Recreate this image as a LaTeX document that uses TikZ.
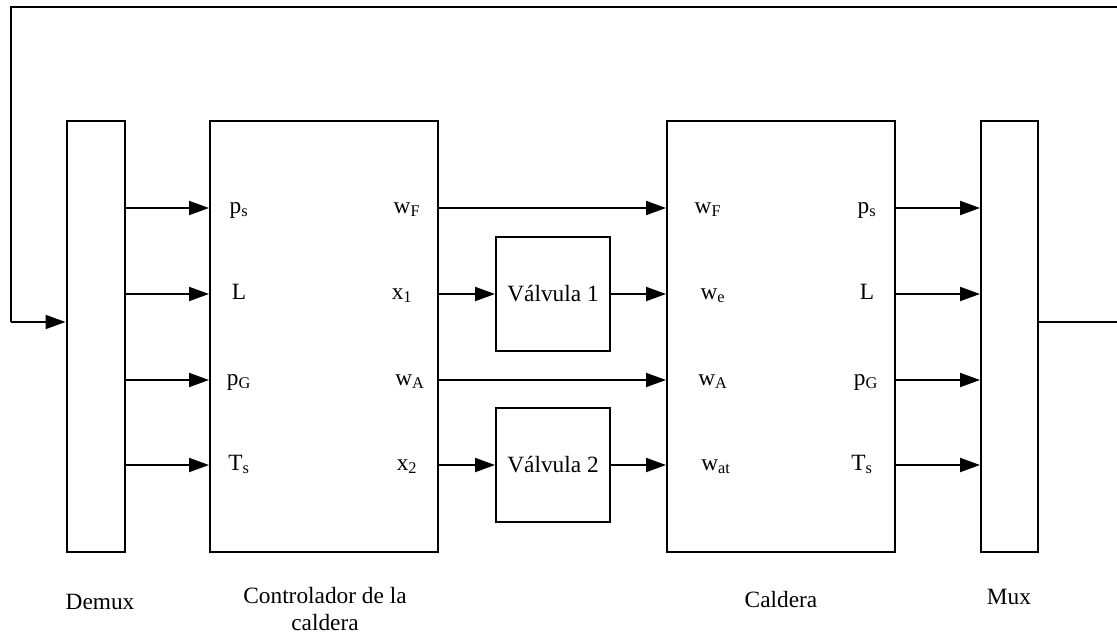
\documentclass[tikz,border=0pt]{standalone}
\usepackage{fontspec}
\setmainfont{Liberation Serif}
\usetikzlibrary{arrows.meta}
\begin{document}
\begin{tikzpicture}[x=0.75pt,y=-0.75pt,
  blk/.style={draw,line width=1.5pt,inner sep=0pt},
  arr/.style={line width=1.5pt,-{Triangle[length=15pt,width=10.5pt]}},
  wire/.style={line width=1.5pt},
  lab/.style={anchor=base,inner sep=0pt,font=\fontsize{17.5}{20}\selectfont},
  captxt/.style={align=center,inner sep=0pt,font=\fontsize{17.5}{20.5}\selectfont}]
\useasboundingbox (0,0) rectangle (1117,639);
% blocks
\node[blk,minimum width=43.5pt,minimum height=323.25pt] (demux) at (95.5,336.5) {};
\node[blk,minimum width=171pt,minimum height=323.25pt] (ctrl) at (324,336.5) {};
\node[blk,minimum width=171pt,minimum height=323.25pt] (cald) at (781,336.5) {};
\node[blk,minimum width=42.75pt,minimum height=323.25pt] (mux) at (1009.5,336.5) {};
\node[blk,minimum width=85.5pt,minimum height=85.5pt,font=\fontsize{17.5}{20}\selectfont] (v1) at (553,294) {Válvula 1};
\node[blk,minimum width=85.5pt,minimum height=85.5pt,font=\fontsize{17.5}{20}\selectfont] (v2) at (553,465) {Válvula 2};
% row coordinates
\coordinate (r1) at (0,208);
\coordinate (r2) at (0,294);
\coordinate (r3) at (0,380);
\coordinate (r4) at (0,465);
\coordinate (fb) at (0,322);
\coordinate (tl) at (11,7);
\coordinate (tr) at (1124,7);
% demux -> controller, caldera -> mux
\foreach \r in {r1,r2,r3,r4}{
  \draw[arr] (demux.east |- \r) -- (ctrl.west |- \r);
  \draw[arr] (cald.east |- \r) -- (mux.west |- \r);
}
% controller -> caldera
\draw[arr] (ctrl.east |- r1) -- (cald.west |- r1);
\draw[arr] (ctrl.east |- r3) -- (cald.west |- r3);
\draw[arr] (ctrl.east |- r2) -- (v1.west);
\draw[arr] (v1.east) -- (cald.west |- r2);
\draw[arr] (ctrl.east |- r4) -- (v2.west);
\draw[arr] (v2.east) -- (cald.west |- r4);
% feedback loop
\draw[wire] (mux.east |- fb) -- (tr |- fb) -- (tr) -- (tl) -- (tl |- fb);
\draw[arr] (tl |- fb) -- (demux.west |- fb);
% controller labels
\node[lab] (ci1) at (239,213) {p\textsubscript{s}};
\node[lab] (ci2) at (239,299) {L};
\node[lab] (ci3) at (239,385) {p\textsubscript{G}};
\node[lab] (ci4) at (239,470) {T\textsubscript{s}};
\node[lab] (co1) at (407,213) {w\textsubscript{F}};
\node[lab] (co2) at (402,299) {x\textsubscript{1}};
\node[lab] (co3) at (410,385) {w\textsubscript{A}};
\node[lab] (co4) at (407,470) {x\textsubscript{2}};
% caldera labels
\node[lab] (ki1) at (708,213) {w\textsubscript{F}};
\node[lab] (ki2) at (713,299) {w\textsubscript{e}};
\node[lab] (ki3) at (713,385) {w\textsubscript{A}};
\node[lab] (ki4) at (716,470) {w\textsubscript{at}};
\node[lab] (ko1) at (867,213) {p\textsubscript{s}};
\node[lab] (ko2) at (867,299) {L};
\node[lab] (ko3) at (866,385) {p\textsubscript{G}};
\node[lab] (ko4) at (862,470) {T\textsubscript{s}};
% captions
\node[captxt] (cdemux) at (100,602) {Demux};
\node[captxt] (cctrl) at (325,609) {Controlador de la\\caldera};
\node[captxt] (ccald) at (781,600) {Caldera};
\node[captxt] (cmux) at (1009,597) {Mux};
\end{tikzpicture}
\end{document}
